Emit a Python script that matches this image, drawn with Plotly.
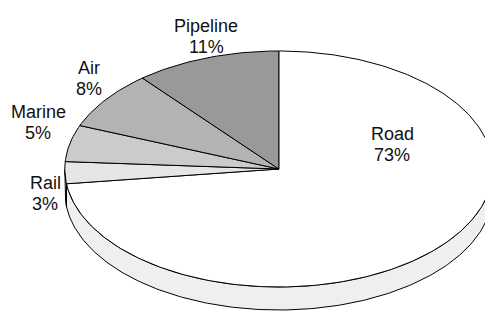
import numpy as np
import plotly.graph_objects as go

# ---- data ----
categories = ["Road", "Rail", "Marine", "Air", "Pipeline"]
shares = [73, 3, 5, 8, 11]
pct_labels = [f"{v}%" for v in shares]

# ---- styles ----
top_colors = ["#ffffff", "#e6e6e6", "#cbcbcb", "#b3b3b3", "#999999"]
side_colors = ["#efefef", "#d2d2d2", "#b8b8b8", "#a0a0a0", "#868686"]
FONT = "Liberation Sans Narrow, Arial Narrow, Liberation Sans, Arial, sans-serif"
FS = 18
PITCH = 21.0          # distance between the two label lines
CAP = 13.5            # approx cap height
W, H = 493, 312       # window size
OFF = 8               # page body margin offset
CX, CY = 278.8, 169.0
RX, RY = 214.0, 118.0
DEPTH = 23.0
GX, GY = 4.0, 4.0
INSIDE_R, INSIDE_FRAC = 0.57, 0.26

def pt(b, dy=0.0):
    return CX + RX * np.sin(b), CY - RY * np.cos(b) + dy

# approximate glyph widths (Helvetica metrics)
WID = {"P": 667, "i": 222, "p": 556, "e": 556, "l": 222, "n": 556, "A": 667,
       "r": 333, "M": 833, "a": 556, "R": 722, "o": 556, "d": 556, "%": 889}
def text_w(s):
    return sum(WID.get(c, 556) for c in s) * FS / 1000.0

total = float(sum(shares))
bounds = np.concatenate([[0.0], np.cumsum(shares) / total]) * 2 * np.pi

fig = go.Figure()

# side (depth) faces, visible between bearing 90deg and 270deg
for i, cat in enumerate(categories):
    lo = max(bounds[i], np.pi / 2)
    hi = min(bounds[i + 1], 3 * np.pi / 2)
    if hi <= lo:
        continue
    n = max(4, int((hi - lo) / (2 * np.pi) * 400))
    a = np.linspace(lo, hi, n)
    xt, yt = pt(a)
    xb, yb = pt(a[::-1], DEPTH)
    xs = np.concatenate([xt, xb, xt[:1]])
    ys = np.concatenate([yt, yb, yt[:1]])
    fig.add_trace(go.Scatter(x=xs, y=ys, mode="lines", fill="toself",
                             fillcolor=side_colors[i],
                             line=dict(color="black", width=1),
                             hoverinfo="skip", showlegend=False))

# top faces
for i, cat in enumerate(categories):
    a0, a1 = bounds[i], bounds[i + 1]
    n = max(4, int((a1 - a0) / (2 * np.pi) * 400))
    a = np.linspace(a0, a1, n)
    x, y = pt(a)
    xs = np.concatenate([[CX], x, [CX]])
    ys = np.concatenate([[CY], y, [CY]])
    fig.add_trace(go.Scatter(x=xs, y=ys, mode="lines", fill="toself",
                             fillcolor=top_colors[i],
                             line=dict(color="black", width=1),
                             hoverinfo="skip", showlegend=False, name=cat))

# labels
annotations = []
for i, cat in enumerate(categories):
    a0, a1 = bounds[i], bounds[i + 1]
    frac = shares[i] / total
    bw = max(text_w(cat), text_w(pct_labels[i]))
    bh = PITCH + CAP
    if frac > 0.5:
        b = a0 + INSIDE_FRAC * (a1 - a0)
        cx_ = CX + INSIDE_R * RX * np.sin(b)
        cy_ = CY - INSIDE_R * RY * np.cos(b)
    else:
        b = (a0 + a1) / 2
        rx_, ry_ = pt(b)
        s, c = np.sin(b), np.cos(b)
        if s < -0.4:
            cx_ = rx_ - GX - bw / 2
        elif s > 0.4:
            cx_ = rx_ + GX + bw / 2
        else:
            cx_ = rx_
        if c >= 0:
            cy_ = ry_ - GY - bh / 2
        else:
            cy_ = ry_ + GY + bh / 2
    for txt, yy in ((cat, cy_ - PITCH / 2), (pct_labels[i], cy_ + PITCH / 2)):
        annotations.append(dict(x=cx_, y=yy, xref="x", yref="y", text=txt,
                                showarrow=False, xanchor="center", yanchor="middle",
                                font=dict(family=FONT, size=FS, color="#111111")))

fig.update_layout(
    width=W - OFF, height=H - OFF,
    margin=dict(l=0, r=0, t=0, b=0),
    paper_bgcolor="white", plot_bgcolor="white",
    xaxis=dict(range=[OFF, W], visible=False, fixedrange=True),
    yaxis=dict(range=[H, OFF], visible=False, fixedrange=True),
    annotations=annotations,
    showlegend=False,
)

fig.write_html("out.html", config={"displayModeBar": False})
